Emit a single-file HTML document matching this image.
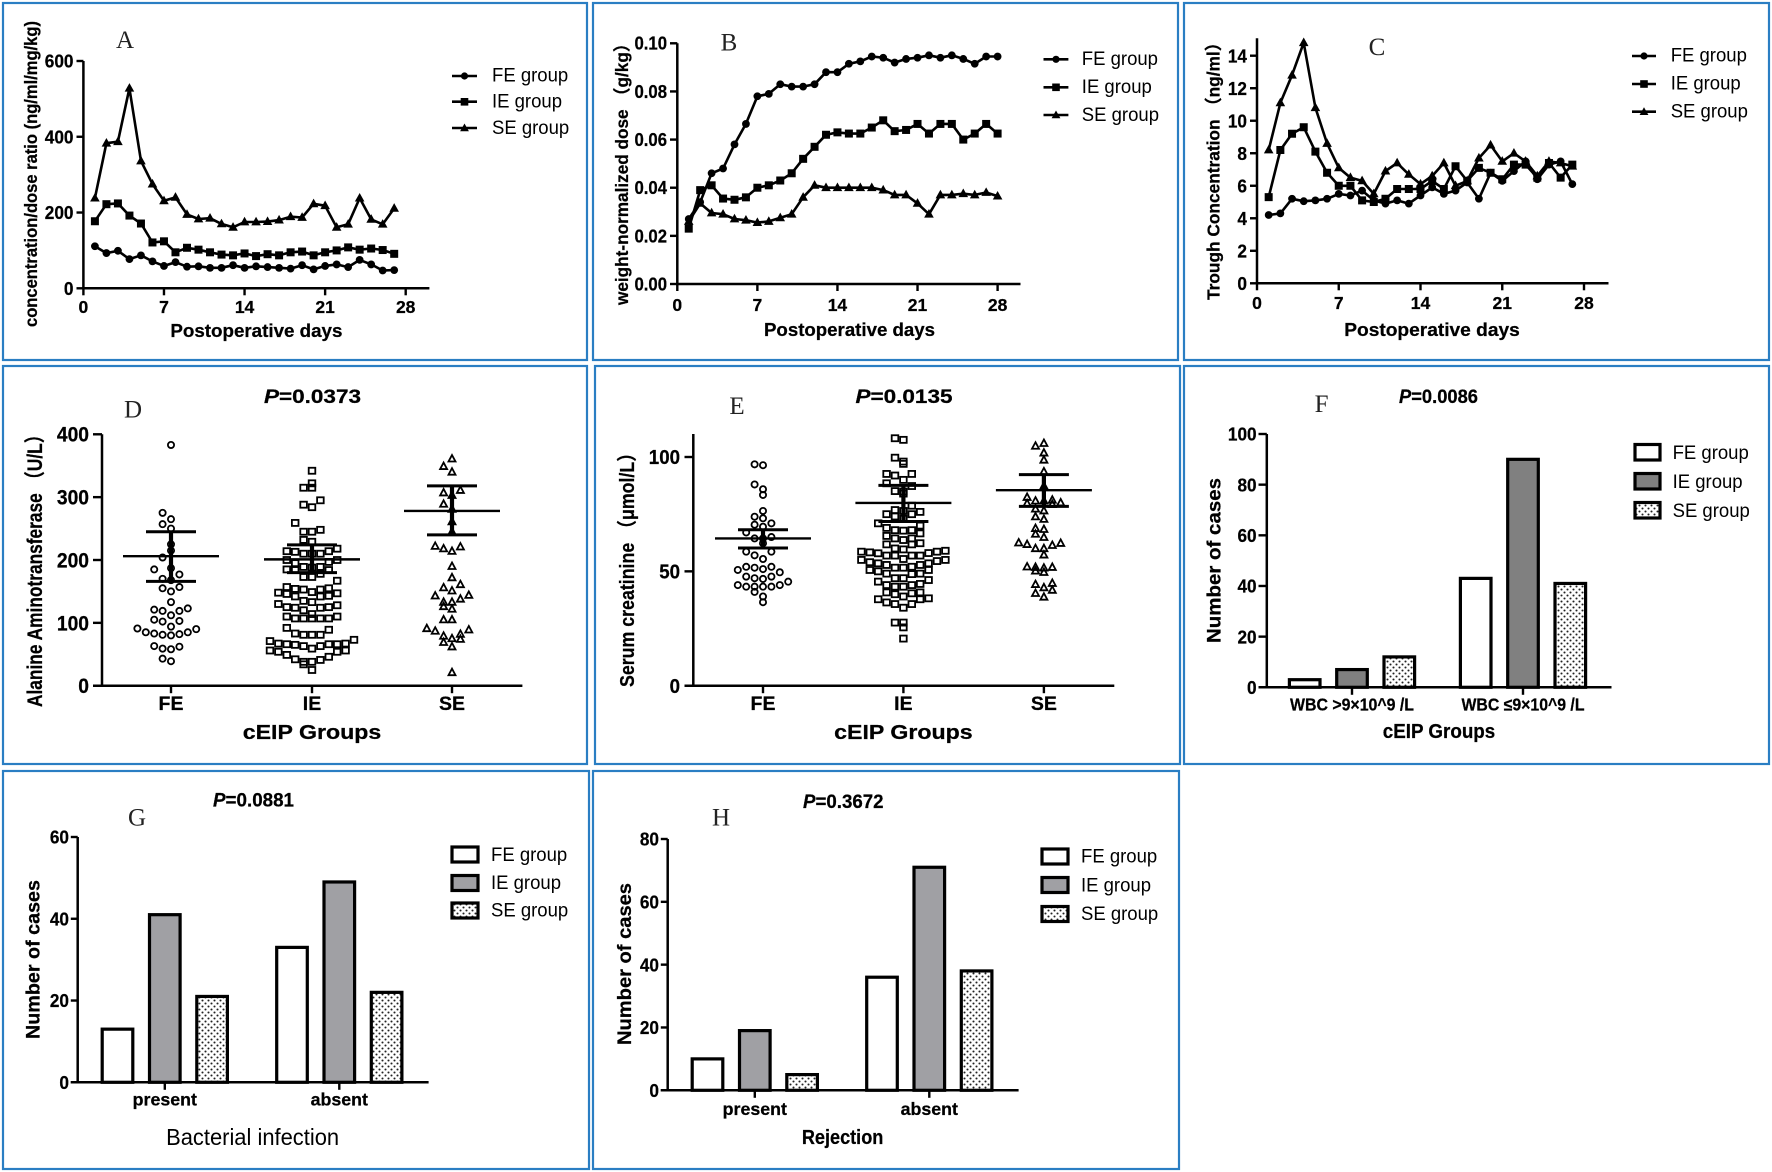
<!DOCTYPE html>
<html lang="en">
<head>
<meta charset="utf-8">
<title>cEIP multi-panel figure</title>
<style>
html,body{margin:0;padding:0;background:#fff;}
svg{display:block;filter:blur(0.35px);}
text{fill:#000;font-family:"Liberation Sans","Noto Sans CJK SC",sans-serif;}
.b,text[font-weight="bold"]{font-weight:bold;stroke:#000;stroke-width:0.25px;}
.let{font-family:"Liberation Serif",serif;font-size:25px;text-anchor:middle;fill:#222;}
.leg{font-size:19.6px;}
.frame{fill:none;stroke:#2a7ec3;stroke-width:2.2;}
.ll{stroke:#000;stroke-width:2.6;}
.box{stroke:#000;stroke-width:3.2;}
</style>
</head>
<body>
<svg id="figure" xmlns="http://www.w3.org/2000/svg" width="1772" height="1172" viewBox="0 0 1772 1172">
<defs>
<pattern id="dots" patternUnits="userSpaceOnUse" width="6" height="6">
<rect width="6" height="6" fill="#fff"/>
<circle cx="1.5" cy="1.5" r="1.05" fill="#222"/>
<circle cx="4.5" cy="4.5" r="1.05" fill="#222"/>
</pattern>
</defs>
<rect width="1772" height="1172" fill="#fff"/>

<!-- Panel A -->
<g id="panel-a">
<rect class="frame" x="3" y="3" width="584" height="357"/>
<text class="let" x="125" y="48">A</text>
<text class="b" font-size="17.5" textLength="306" lengthAdjust="spacingAndGlyphs" transform="translate(37,327) rotate(-90)">concentration/dose ratio (ng/ml/mg/kg)</text>
<text class="b" font-size="18.5" text-anchor="middle" textLength="172" lengthAdjust="spacingAndGlyphs" x="256.4" y="337">Postoperative days</text>
<g>
<line class="ll" x1="452" x2="477" y1="76" y2="76"/><circle cx="464.5" cy="76" r="3.6"/>
<text class="leg" x="492" y="81.7">FE group</text>
<line class="ll" x1="452" x2="477" y1="101.7" y2="101.7"/><rect x="460.7" y="98" width="7.6" height="7.6"/>
<text class="leg" x="492" y="107.4">IE group</text>
<line class="ll" x1="452" x2="477" y1="128" y2="128"/><path d="M464.5 123.5l4.4 7.8h-8.8z"/>
<text class="leg" x="492" y="134">SE group</text>
</g>
</g>

<!-- Panel B -->
<g id="panel-b">
<rect class="frame" x="593" y="3" width="585" height="357"/>
<text class="let" x="729" y="50.7">B</text>
<text class="b" font-size="17.5" textLength="270" lengthAdjust="spacingAndGlyphs" transform="translate(628,305) rotate(-90)">weight-normalized dose （g/kg）</text>
<text class="b" font-size="18.5" text-anchor="middle" textLength="171" lengthAdjust="spacingAndGlyphs" x="849.5" y="336">Postoperative days</text>
<g>
<line class="ll" x1="1043.5" x2="1068.4" y1="59.3" y2="59.3"/><circle cx="1056" cy="59.3" r="3.6"/>
<text class="leg" x="1081.8" y="65">FE group</text>
<line class="ll" x1="1043.5" x2="1068.4" y1="87.3" y2="87.3"/><rect x="1052.2" y="83.5" width="7.6" height="7.6"/>
<text class="leg" x="1081.8" y="93">IE group</text>
<line class="ll" x1="1043.5" x2="1068.4" y1="115" y2="115"/><path d="M1056 110.5l4.4 7.8h-8.8z"/>
<text class="leg" x="1081.8" y="121">SE group</text>
</g>
</g>

<!-- Panel C -->
<g id="panel-c">
<rect class="frame" x="1184" y="3" width="585" height="357"/>
<text class="let" x="1377" y="55">C</text>
<text class="b" font-size="17.5" textLength="266" lengthAdjust="spacingAndGlyphs" transform="translate(1219.6,300) rotate(-90)">Trough Concentration （ng/ml）</text>
<text class="b" font-size="18.5" text-anchor="middle" textLength="175.5" lengthAdjust="spacingAndGlyphs" x="1432" y="336">Postoperative days</text>
<g>
<line class="ll" x1="1632" x2="1656" y1="56" y2="56"/><circle cx="1644" cy="56" r="3.6"/>
<text class="leg" x="1670.7" y="61.7">FE group</text>
<line class="ll" x1="1632" x2="1656" y1="84" y2="84"/><rect x="1640.2" y="80.2" width="7.6" height="7.6"/>
<text class="leg" x="1670.7" y="89.7">IE group</text>
<line class="ll" x1="1632" x2="1656" y1="111.7" y2="111.7"/><path d="M1644 107.2l4.4 7.8h-8.8z"/>
<text class="leg" x="1670.7" y="117.5">SE group</text>
</g>
</g>

<!-- Panel D -->
<g id="panel-d">
<rect class="frame" x="3" y="366" width="584" height="398"/>
<text class="let" x="133" y="417.7">D</text>
<text class="b" font-size="19" textLength="97" lengthAdjust="spacingAndGlyphs" x="264" y="403"><tspan font-style="italic">P</tspan>=0.0373</text>
<text class="b" font-size="21" textLength="281" lengthAdjust="spacingAndGlyphs" transform="translate(42,707) rotate(-90)">Alanine Aminotransferase （U/L）</text>
<text class="b" font-size="20" text-anchor="middle" textLength="138.5" lengthAdjust="spacingAndGlyphs" x="312" y="739">cEIP Groups</text>
</g>

<!-- Panel E -->
<g id="panel-e">
<rect class="frame" x="595" y="366" width="585" height="398"/>
<text class="let" x="737" y="414">E</text>
<text class="b" font-size="19" textLength="97" lengthAdjust="spacingAndGlyphs" x="855.5" y="403"><tspan font-style="italic">P</tspan>=0.0135</text>
<text class="b" font-size="20" textLength="243" lengthAdjust="spacingAndGlyphs" transform="translate(634,687) rotate(-90)">Serum creatinine （μmol/L）</text>
<text class="b" font-size="20" text-anchor="middle" textLength="138.5" lengthAdjust="spacingAndGlyphs" x="903.4" y="739">cEIP Groups</text>
</g>

<!-- Panel F -->
<g id="panel-f">
<rect class="frame" x="1184" y="366" width="585" height="398"/>
<text class="let" x="1321.6" y="412">F</text>
<text class="b" font-size="19" textLength="79" lengthAdjust="spacingAndGlyphs" x="1399" y="403"><tspan font-style="italic">P</tspan>=0.0086</text>
<text class="b" font-size="19" textLength="165" lengthAdjust="spacingAndGlyphs" transform="translate(1220.4,643) rotate(-90)">Number of cases</text>
<text class="b" font-size="20" text-anchor="middle" textLength="112.5" lengthAdjust="spacingAndGlyphs" x="1439" y="738">cEIP Groups</text>
<g>
<rect class="box" x="1635" y="444.5" width="25" height="15.5" fill="#fff"/>
<text class="leg" x="1672.6" y="459">FE group</text>
<rect class="box" x="1635" y="473.5" width="25" height="15.5" fill="#808080"/>
<text class="leg" x="1672.6" y="488">IE group</text>
<rect class="box" x="1635" y="502.5" width="25" height="15.5" fill="url(#dots)"/>
<text class="leg" x="1672.6" y="517">SE group</text>
</g>
</g>

<!-- Panel G -->
<g id="panel-g">
<rect class="frame" x="3" y="771" width="586" height="398"/>
<text class="let" x="137" y="825.7">G</text>
<text class="b" font-size="19" textLength="81" lengthAdjust="spacingAndGlyphs" x="213" y="806.7"><tspan font-style="italic">P</tspan>=0.0881</text>
<text class="b" font-size="19" textLength="159" lengthAdjust="spacingAndGlyphs" transform="translate(39.4,1039) rotate(-90)">Number of cases</text>
<text font-size="23" text-anchor="middle" textLength="173" lengthAdjust="spacingAndGlyphs" x="252.6" y="1145">Bacterial infection</text>
<g>
<rect class="box" x="452" y="847" width="26" height="15" fill="#fff"/>
<text class="leg" x="491" y="861">FE group</text>
<rect class="box" x="452" y="875.5" width="26" height="15" fill="#a0a0a4"/>
<text class="leg" x="491" y="889">IE group</text>
<rect class="box" x="452" y="903" width="26" height="15" fill="url(#dots)"/>
<text class="leg" x="491" y="916.7">SE group</text>
</g>
</g>

<!-- Panel H -->
<g id="panel-h">
<rect class="frame" x="593" y="771" width="586" height="398"/>
<text class="let" x="721" y="825.7">H</text>
<text class="b" font-size="19" textLength="80.5" lengthAdjust="spacingAndGlyphs" x="803" y="808"><tspan font-style="italic">P</tspan>=0.3672</text>
<text class="b" font-size="19" textLength="162" lengthAdjust="spacingAndGlyphs" transform="translate(631,1045) rotate(-90)">Number of cases</text>
<text class="b" font-size="20" text-anchor="middle" textLength="81.5" lengthAdjust="spacingAndGlyphs" x="842.6" y="1144">Rejection</text>
<g>
<rect class="box" x="1042" y="849" width="26" height="15" fill="#fff"/>
<text class="leg" x="1081" y="862.7">FE group</text>
<rect class="box" x="1042" y="877.5" width="26" height="15" fill="#a0a0a4"/>
<text class="leg" x="1081" y="891.7">IE group</text>
<rect class="box" x="1042" y="906.5" width="26" height="15" fill="url(#dots)"/>
<text class="leg" x="1081" y="920">SE group</text>
</g>
</g>
</svg>

<script>
// ---------- Panel A: concentration/dose ratio ----------
const aFE = [111,93,99,77,87,71,59,69,57,58,54,54,61,54,58,56,54,52,61,50,59,63,56,75,63,47,48];
const aIE = [177,222,224,192,171,121,124,95,107,102,95,89,87,92,85,90,87,95,97,87,95,100,108,102,105,101,91];
const aSE = [238,383,387,528,336,275,231,240,195,183,185,170,161,175,175,176,180,189,187,223,218,161,169,238,182,169,211];
const aYTicks = [0,200,400,600];
// ---------- Panel B: weight-normalized dose ----------
const bFE = [.027,.034,.046,.048,.058,.0665,.078,.079,.083,.082,.082,.083,.088,.088,.0915,.0925,.0945,.094,.092,.0935,.094,.095,.094,.095,.0935,.0915,.0945,.0945];
const bIE = [.023,.039,.041,.0355,.035,.036,.040,.041,.043,.046,.052,.057,.062,.063,.0625,.0625,.065,.068,.0635,.064,.0665,.0625,.0665,.0665,.060,.0625,.0665,.0625];
const bSE = [.026,.0335,.0295,.029,.027,.0265,.0255,.026,.0275,.029,.036,.041,.040,.040,.040,.040,.040,.039,.037,.037,.0335,.029,.037,.037,.0375,.037,.038,.0365];
const bYTicks = [0,.02,.04,.06,.08,.10];
const bYLabels = ['0.00','0.02','0.04','0.06','0.08','0.10'];
// ---------- Panel C: trough concentration ----------
const cFE = [4.2,4.3,5.2,5.05,5.1,5.2,5.5,5.4,5.7,5.1,4.9,5.1,4.9,5.4,5.9,5.5,5.7,6.2,5.2,6.8,6.3,6.9,7.5,6.4,7.3,7.5,6.1];
const cIE = [5.3,8.2,9.2,9.6,8.1,6.8,6.0,6.0,5.1,5.0,5.2,5.8,5.8,5.8,6.3,5.8,7.2,6.3,7.1,6.8,6.4,7.3,7.3,6.5,7.4,6.5,7.3];
const cSE = [8.2,11.1,12.8,14.8,10.8,8.6,7.1,6.5,6.3,5.5,6.9,7.4,6.7,6.1,6.6,7.4,6.0,6.3,7.7,8.5,7.5,8.0,7.5,6.6,7.5,7.4,7.2];
const cYTicks = [0,2,4,6,8,10,12,14];
const dayTicks = [0,7,14,21,28];
// ---------- Panel D: alanine aminotransferase ----------
const dFE = [383,275,265,257,250,225,215,204,187,185,177,170,168,157,155,150,133,123,121,119,119,112,105,103,102,94,91,90,85,85,83,82,81,80,63,62,59,58,43,39];
const dIE = [342,322,315,315,295,288,284,259,248,245,245,232,229,218,214,214,213,210,210,210,200,200,197,195,189,189,188,185,184,184,178,173,173,167,157,155,154,153,153,149,148,147,146,143,142,142,135,133,130,128,125,125,124,124,120,114,110,110,107,107,107,107,107,92,89,83,81,81,81,73,71,67,67,66,66,66,65,63,63,59,56,56,54,54,49,46,42,41,38,38,34,25];
const dSE = [361,349,340,311,307,303,289,281,261,245,222,221,218,214,190,172,161,156,151,144,143,138,133,133,126,122,105,105,91,89,87,82,79,75,74,69,62,21];
const dMean = [206,201,278];
const dHigh = [245,224,318];
const dLow = [166,180,240];
const dYTicks = [0,100,200,300,400];
// ---------- Panel E: serum creatinine ----------
const eFE = [96.8,96.4,88,85.9,83.4,76.4,73.9,73.2,71,70.4,69.5,67,65,64.4,64.4,62.3,58.6,58.6,57,55.4,52,52,51.6,51,50.6,49.6,47.7,47.7,47,46.7,45.5,44,44,43.3,43.3,43.3,43.3,41,39,36.5];
const eIE = [108.2,107.5,99.7,98,97,92.6,92.6,91.9,90,88.5,87.3,85.1,84.9,84,78.7,76.8,76.4,76,75,75,74,73,71,70,69,68,68,67.8,66.6,65.5,64.4,64.4,63.7,62.3,61.8,61.8,60,59.6,59,58.6,58.6,58.3,58,57.9,56.9,56.9,56.9,56.9,55.4,55,55,54.5,54,53.5,53.5,52.8,52.8,52,51.6,51.6,50.6,50.6,50,49,49,48.8,47,47,46.2,45.5,44.5,44,44,43.3,43.3,40.8,40.8,40.4,40,39,38.2,37.8,37.8,36.4,35.7,35.7,34.1,27.6,27.6,25.5,20.6];
const eSE = [106,104.8,101.8,98.7,93.6,87.3,82.4,81.2,80.8,80.8,80,79.7,79.3,77.3,76.5,73.9,72.8,68.8,68.4,66.3,64.9,62.5,62.3,61.8,61.4,60,60,57.2,52,51.8,51.8,51.5,50.2,49.6,44.8,44.3,42.9,41.8,40.4,38.8];
const eMean = [64.4,79.9,85.5];
const eHigh = [68.2,87.6,92.3];
const eLow = [60.2,71.8,78.4];
const eYTicks = [0,50,100];
const groupLabels = ['FE','IE','SE'];
// ---------- Panels F, G, H: grouped bars ----------
const fFE = [3,43];
const fIE = [7,90];
const fSE = [12,41];
const fCats = ['WBC >9×10^9 /L','WBC ≤9×10^9 /L'];
const fYTicks = [0,20,40,60,80,100];
const gFE = [13,33];
const gIE = [41,49];
const gSE = [21,22];
const gYTicks = [0,20,40,60];
const hFE = [10,36];
const hIE = [19,71];
const hSE = [5,38];
const hYTicks = [0,20,40,60,80];
const presenceCats = ['present','absent'];

const NS = 'http://www.w3.org/2000/svg';
function mk(parent, tag, attrs, txt) {
  const el = document.createElementNS(NS, tag);
  for (const k in attrs) el.setAttribute(k, attrs[k]);
  if (txt !== undefined) el.textContent = txt;
  parent.appendChild(el);
  return el;
}
function linearY(base, refPx, refVal) {
  return v => base - v * (base - refPx) / refVal;
}
function condense(el, factor) {
  const w = el.getComputedTextLength();
  el.setAttribute('textLength', (w * factor).toFixed(1));
  el.setAttribute('lengthAdjust', 'spacingAndGlyphs');
}
function drawYAxis(g, cfg, ticks, labels) {
  const ax = mk(g, 'line', {x1: cfg.ax, x2: cfg.ax, y1: cfg.top, y2: cfg.base + 1.2, stroke: '#000', 'stroke-width': 2.5});
  
  
  ticks.forEach((t, i) => {
    const y = cfg.sy(t);
    const tk = mk(g, 'line', {x1: cfg.tickL, x2: cfg.ax, y1: y, y2: y, stroke: '#000', 'stroke-width': 2.4});
    
    
    const lb = mk(g, 'text', {x: cfg.labelR, y: y + cfg.fs * 0.39, 'text-anchor': 'end', 'font-size': cfg.fs * 1.1, 'font-weight': 'bold'}, labels ? labels[i] : String(t));
    
    
    condense(lb, 0.92);
  });
}
function drawXLine(g, cfg) {
  const ax = mk(g, 'line', {x1: cfg.xLeft, x2: cfg.xEnd, y1: cfg.base, y2: cfg.base, stroke: '#000', 'stroke-width': 2.5});
  
  
}
function drawXTick(g, x, base, len, label, baseline, fs, weight, width) {
  const tk = mk(g, 'line', {x1: x, x2: x, y1: base, y2: base + len, stroke: '#000', 'stroke-width': 2.4});
  
  
  const attrs = {x: x, y: baseline, 'text-anchor': 'middle', 'font-size': fs, 'font-weight': weight};
  if (width) { attrs.textLength = width; attrs.lengthAdjust = 'spacingAndGlyphs'; }
  const lb = mk(g, 'text', attrs, label);
  
  
}
function drawMarker(g, kind, x, y) {
  let m;
  if (kind === 'circle') m = mk(g, 'circle', {cx: x, cy: y, r: 3.9, fill: '#000'});
  else if (kind === 'square') m = mk(g, 'rect', {x: x - 4, y: y - 4, width: 8, height: 8, fill: '#000'});
  else m = mk(g, 'path', {d: 'M' + x + ' ' + (y - 5.2) + 'l4.8 8.6h-9.6z', fill: '#000'});
  return m;
}
function lineChart(id, cfg, series, ticks, labels) {
  const g = document.getElementById(id);
  const sx = d => cfg.x0 + d * (cfg.x28 - cfg.x0) / 28;
  cfg.ax = cfg.x0;
  cfg.xLeft = cfg.x0 - 1.2;
  drawYAxis(g, cfg, ticks, labels);
  drawXLine(g, cfg);
  dayTicks.forEach(d => drawXTick(g, sx(d), cfg.base, 7, String(d), cfg.xLabelY, 17.5, 'bold'));
  series.forEach(s => {
    const pts = s.values.map((v, i) => sx(i + 1).toFixed(1) + ',' + cfg.sy(v).toFixed(1)).join(' ');
    const pl = mk(g, 'polyline', {points: pts, fill: 'none', stroke: '#000', 'stroke-width': 2.6, 'stroke-linejoin': 'round'});
    
    
    s.values.forEach((v, i) => {
      const m = drawMarker(g, s.kind, sx(i + 1), cfg.sy(v));
      
      
    });
  });
}
function swarmOffsets(values, binW, binBase) {
  const bins = {};
  const order = values.map((v, i) => [v, i]).sort((a, b) => a[0] - b[0]);
  const out = new Array(values.length);
  order.forEach(pair => {
    const k = Math.floor((pair[0] - binBase) / binW);
    const n = bins[k] || 0;
    bins[k] = n + 1;
    out[pair[1]] = n === 0 ? 0 : (n % 2 ? -(n + 1) / 2 : n / 2);
  });
  return out;
}
function drawOpenSymbol(g, kind, x, y) {
  const st = {fill: 'none', stroke: '#000', 'stroke-width': 1.8};
  if (kind === 'circle') return mk(g, 'circle', Object.assign({cx: x, cy: y, r: 3.1}, st));
  if (kind === 'square') return mk(g, 'rect', Object.assign({x: x - 3.3, y: y - 3.0, width: 6.6, height: 6.0}, st));
  return mk(g, 'path', Object.assign({d: 'M' + x + ' ' + (y - 3.8) + 'l3.5 6.5h-7z'}, st));
}
function scatterChart(id, cfg, groups, means, highs, lows, ticks) {
  const g = document.getElementById(id);
  drawYAxis(g, cfg, ticks);
  drawXLine(g, cfg);
  groupLabels.forEach((lab, i) => drawXTick(g, cfg.xs[i], cfg.base, 7.5, lab, 710, 19.5, 'bold'));
  groups.forEach((grp, i) => {
    const off = swarmOffsets(grp.values, cfg.binW, cfg.binBase);
    grp.values.forEach((v, j) => {
      const s = drawOpenSymbol(g, grp.kind, cfg.xs[i] + off[j] * 8.4, cfg.sy(v));
      
      
    });
    const m = mk(g, 'line', {x1: cfg.xs[i] - 48, x2: cfg.xs[i] + 48, y1: cfg.sy(means[i]), y2: cfg.sy(means[i]), stroke: '#000', 'stroke-width': 2.4});
    
    
    const e = mk(g, 'line', {x1: cfg.xs[i], x2: cfg.xs[i], y1: cfg.sy(highs[i]), y2: cfg.sy(lows[i]), stroke: '#000', 'stroke-width': 4.2});
    
    
    [highs[i], lows[i]].forEach(val => {
      const c = mk(g, 'line', {x1: cfg.xs[i] - 25, x2: cfg.xs[i] + 25, y1: cfg.sy(val), y2: cfg.sy(val), stroke: '#000', 'stroke-width': 3});
      
      
    });
  });
}
function barChart(id, cfg, cats, fe, ie, se, ieFill, ticks) {
  const g = document.getElementById(id);
  drawYAxis(g, cfg, ticks);
  cfg.xs.forEach((x, i) => {
    drawXTick(g, x, cfg.base, 7.5, cats[i], cfg.catY, cfg.catFs, 'bold', cfg.catW[i]);
  });
  const series = [[fe, '#fff', 'fe', -47.3], [ie, ieFill, 'ie', 0], [se, 'url(#dots)', 'se', 47.3]];
  series.forEach(s => {
    s[0].forEach((v, i) => {
      const top = cfg.sy(v);
      const r = mk(g, 'rect', {x: cfg.xs[i] + s[3] - 15.3, y: top, width: 30.6, height: cfg.base - top, fill: s[1], stroke: '#000', 'stroke-width': 3.2});
      
      
    });
  });
  drawXLine(g, cfg);
}

lineChart('panel-a', {x0: 83.4, x28: 405.7, base: 288.3, top: 61, sy: linearY(288.3, 61, 600), xEnd: 429.4, tickL: 76.5, labelR: 73.5, fs: 17, xLabelY: 313},
  [{name: 'fe', kind: 'circle', values: aFE}, {name: 'ie', kind: 'square', values: aIE}, {name: 'se', kind: 'tri', values: aSE}], aYTicks);
lineChart('panel-b', {x0: 677.3, x28: 997.6, base: 284, top: 43.3, sy: linearY(284, 43.3, 0.1), xEnd: 1020.5, tickL: 670, labelR: 667, fs: 16.5, xLabelY: 311},
  [{name: 'fe', kind: 'circle', values: bFE}, {name: 'ie', kind: 'square', values: bIE}, {name: 'se', kind: 'tri', values: bSE}], bYTicks, bYLabels);
lineChart('panel-c', {x0: 1257, x28: 1584, base: 283.3, top: 38.3, sy: linearY(283.3, 55.7, 14), xEnd: 1608.5, tickL: 1250, labelR: 1247, fs: 17, xLabelY: 309},
  [{name: 'fe', kind: 'circle', values: cFE}, {name: 'ie', kind: 'square', values: cIE}, {name: 'se', kind: 'tri', values: cSE}], cYTicks);

scatterChart('panel-d', {ax: 102, base: 685.7, top: 434.3, sy: linearY(685.7, 434.3, 400), xLeft: 93, xEnd: 522.4, tickL: 93, labelR: 89, fs: 19, xs: [171, 312, 452], binW: 18.5, binBase: 1},
  [{kind: 'circle', values: dFE}, {kind: 'square', values: dIE}, {kind: 'tri', values: dSE}], dMean, dHigh, dLow, dYTicks);
scatterChart('panel-e', {ax: 693.3, base: 685.7, top: 434, sy: linearY(685.7, 457, 100), xLeft: 684.5, xEnd: 1114.3, tickL: 684.5, labelR: 680, fs: 18.5, xs: [763, 903.4, 1043.9], binW: 4.2, binBase: 0.5},
  [{kind: 'circle', values: eFE}, {kind: 'square', values: eIE}, {kind: 'tri', values: eSE}], eMean, eHigh, eLow, eYTicks);

barChart('panel-f', {ax: 1266.8, base: 687.3, top: 434, sy: linearY(687.3, 434, 100), xLeft: 1258.5, xEnd: 1611.5, tickL: 1258.5, labelR: 1256.6, fs: 17, xs: [1352, 1523], catY: 710.7, catFs: 17.5, catW: [124, 123]}, fCats, fFE, fIE, fSE, '#808080', fYTicks);
barChart('panel-g', {ax: 77.7, base: 1082.3, top: 837, sy: linearY(1082.3, 837, 60), xLeft: 70.8, xEnd: 428.6, tickL: 70.8, labelR: 69, fs: 17, xs: [164.8, 339.3], catY: 1105.7, catFs: 17.5, catW: [64.3, 57.4]}, presenceCats, gFE, gIE, gSE, '#a0a0a4', gYTicks);
barChart('panel-h', {ax: 667.7, base: 1090.3, top: 839, sy: linearY(1090.3, 839, 80), xLeft: 660.8, xEnd: 1018.6, tickL: 660.8, labelR: 659, fs: 17, xs: [754.8, 929.3], catY: 1115, catFs: 17.5, catW: [64.3, 57.4]}, presenceCats, hFE, hIE, hSE, '#a0a0a4', hYTicks);

// Legend labels are taller and narrower than the natural font metrics in the source figure.
document.querySelectorAll('text.leg').forEach(t => condense(t, 0.945));
</script>
</body>
</html>
